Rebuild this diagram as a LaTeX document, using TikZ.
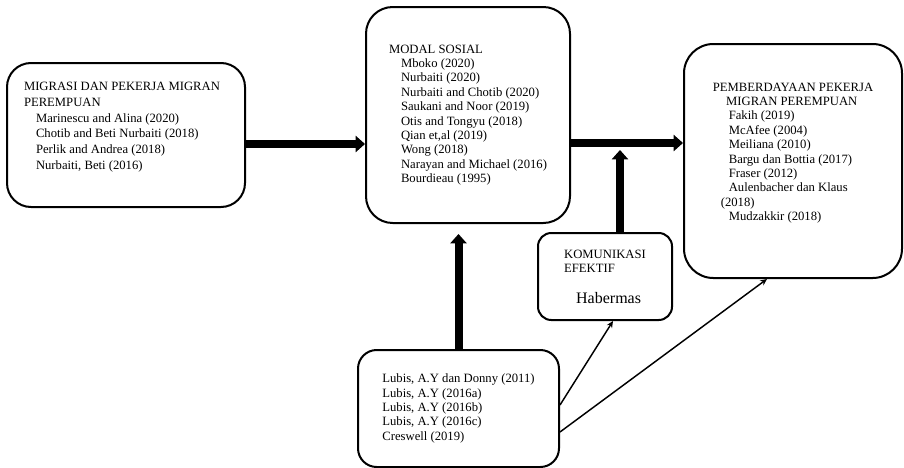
\documentclass[tikz,border=0pt]{standalone}
\usepackage{fontspec}
\setmainfont{Liberation Serif}
\usetikzlibrary{arrows.meta, calc}

\begin{document}
\begin{tikzpicture}[
    x=0.75pt, y=-0.75pt,
    box/.style={rectangle, draw, line width=1.5pt, align=left, inner sep=0pt, font=\fontsize{9.5}{10.8}\selectfont},
    bigarrow/.style={-{Triangle[length=7pt,width=12pt]}, line width=6pt},
    thinarrow/.style={-{Stealth[length=5pt,width=4.5pt]}, line width=1.1pt}
]
    \useasboundingbox (0,0) rectangle (904,468);

    \node[box, rounded corners=18pt, minimum width=178.5pt, minimum height=108pt,
          font=\fontsize{9.5}{11.8}\selectfont] (migrasi) at (126,135)
        {MIGRASI DAN PEKERJA MIGRAN\hspace*{6pt}\\
         PEREMPUAN\\
         \hspace*{9pt}Marinescu and Alina (2020)\\
         \hspace*{9pt}Chotib and Beti Nurbaiti (2018)\\
         \hspace*{9pt}Perlik and Andrea (2018)\\
         \hspace*{9pt}Nurbaiti, Beti (2016)\\[2pt]};

    \node[box, rounded corners=20pt, minimum width=153pt, minimum height=162pt] (modal) at (468,115)
        {MODAL SOSIAL\\
         \hspace*{9pt}Mboko (2020)\\
         \hspace*{9pt}Nurbaiti (2020)\\
         \hspace*{9pt}Nurbaiti and Chotib (2020)\\
         \hspace*{9pt}Saukani and Noor (2019)\\
         \hspace*{9pt}Otis and Tongyu (2018)\\
         \hspace*{9pt}Qian et,al (2019)\\
         \hspace*{9pt}Wong (2018)\\
         \hspace*{9pt}Narayan and Michael (2016)\hspace*{8pt}\\
         \hspace*{9pt}Bourdieau (1995)};

    \node[box, rounded corners=22pt, minimum width=163.5pt, minimum height=175.5pt] (pemberdayaan) at (793,161)
        {PEMBERDAYAAN PEKERJA\\
         \hspace*{10pt}MIGRAN PEREMPUAN\\
         \hspace*{12pt}Fakih (2019)\\
         \hspace*{12pt}McAfee (2004)\\
         \hspace*{12pt}Meiliana (2010)\\
         \hspace*{12pt}Bargu dan Bottia (2017)\\
         \hspace*{12pt}Fraser (2012)\\
         \hspace*{12pt}Aulenbacher dan Klaus\\
         \hspace*{6pt}(2018)\\
         \hspace*{12pt}Mudzakkir (2018)\\[3pt]};

    \node[box, rounded corners=10pt, minimum width=100.5pt, minimum height=65.25pt] (komunikasi) at (605,276.5)
        {KOMUNIKASI\\
         EFEKTIF\\[12pt]
         \hspace*{9pt}{\fontsize{12}{14}\selectfont Habermas}};

    \node[box, rounded corners=14pt, minimum width=150.75pt, minimum height=87.75pt] (lubis) at (458.5,408.5)
        {Lubis, A.Y dan Donny (2011)\\
         Lubis, A.Y (2016a)\\
         Lubis, A.Y (2016b)\\
         Lubis, A.Y (2016c)\\
         Creswell (2019)};

    % main flow
    \coordinate (flowa) at ($(migrasi.east)+(0,9)$);
    \coordinate (flowb) at ($(modal.east)+(0,28)$);
    \draw[bigarrow] (flowa) -- (flowa -| modal.west);
    \draw[bigarrow] (flowb) -- (flowb -| pemberdayaan.west);

    % supporting arrows
    \coordinate (komtop) at ($(komunikasi.north)+(15,0)$);
    \coordinate (meet) at (komtop |- flowb);
    \draw[bigarrow] (komtop) -- ($(meet)+(0,7)$);
    \draw[bigarrow] (lubis.north) -- ($(lubis.north |- modal.south)+(0,10)$);

    \draw[thinarrow] ($(lubis.east)+(0,-3.5)$) -- ($(komunikasi.south)+(8,0)$);
    \draw[thinarrow] ($(lubis.east)+(0,23.5)$) -- ($(pemberdayaan.south)+(-26,0)$);
\end{tikzpicture}
\end{document}
